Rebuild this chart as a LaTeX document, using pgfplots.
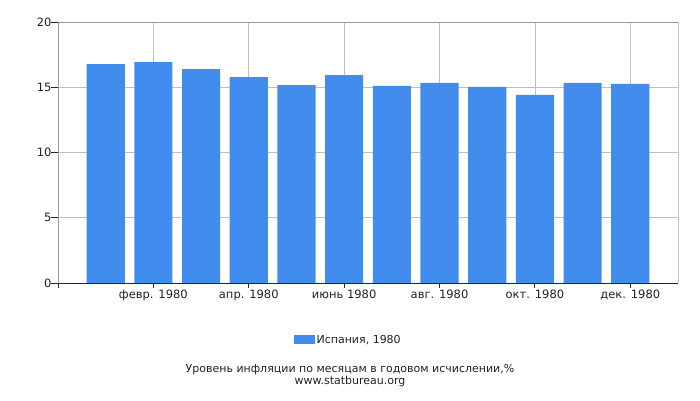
\documentclass[border=0pt]{standalone}
\usepackage{pgfplots}
\pgfplotsset{compat=1.18}
\usepackage{fontspec}
\setmainfont{DejaVu Sans}
\definecolor{barblue}{RGB}{66,140,238}
\definecolor{gridgray}{RGB}{190,190,190}
\definecolor{txt}{RGB}{34,34,34}
\begin{document}
\begin{tikzpicture}[x=1pt,y=1pt]
\path[use as bounding box] (0,0) rectangle (700,400);
\begin{axis}[
    at={(58pt,117pt)}, anchor=south west,
    scale only axis, width=620pt, height=261pt,
    xmin=0, xmax=13, ymin=0, ymax=20,
    xtick={2,4,6,8,10,12},
    xticklabels={февр. 1980, апр. 1980, июнь 1980, авг. 1980, окт. 1980, дек. 1980},
    ytick={0,5,10,15,20},
    /pgf/number format/assume math mode=true,
    ticklabel style={font=\fontsize{11.5}{13}\selectfont, text=txt},
    xticklabel style={yshift=-3pt},
    yticklabel style={xshift=-3pt},
    axis x line*=bottom, axis y line*=left,
    x axis line style={draw=black!80, -},
    y axis line style={draw=gray!80, -},
    major tick length=0pt,
    grid=major, major grid style={draw=gridgray, line width=0.8pt},
    legend style={at={(0.468,-0.218)}, anchor=center, draw=none,
        font=\fontsize{11}{13}\selectfont, text=txt},
    legend image code/.code={\fill[barblue] (0pt,-4pt) rectangle (21pt,5pt);},
    clip=false,
]
\addplot[ybar, bar width=0.8, fill=barblue, draw=none] coordinates {
 (1,16.77) (2,16.92) (3,16.39) (4,15.78) (5,15.17) (6,15.93)
 (7,15.10) (8,15.33) (9,15.02) (10,14.42) (11,15.33) (12,15.25)
};
\addlegendentry{Испания, 1980}
\draw[gridgray, line width=0.8pt] (axis cs:13,0) -- (axis cs:13,20);
\draw[gray!80, line width=0.8pt] (axis cs:0,20) -- (axis cs:13,20);
\pgfplotsinvokeforeach{0,5,10,15,20}{
  \draw[black!85, line width=0.9pt] (axis cs:0,#1) -- ++(-7pt,0);
}
\pgfplotsinvokeforeach{0,2,4,6,8,10,12}{
  \draw[black!85, line width=0.9pt] (axis cs:#1,0) -- ++(0,-5pt);
}
\draw[black!85, line width=0.9pt] (axis cs:0,0) -- (axis cs:13,0);
\end{axis}
\node[text=txt, font=\fontsize{11}{13}\selectfont] at (350,30) {Уровень инфляции по месяцам в годовом исчислении,\%};
\node[text=txt, font=\fontsize{11}{13}\selectfont] at (350,19) {www.statbureau.org};
\end{tikzpicture}
\end{document}
